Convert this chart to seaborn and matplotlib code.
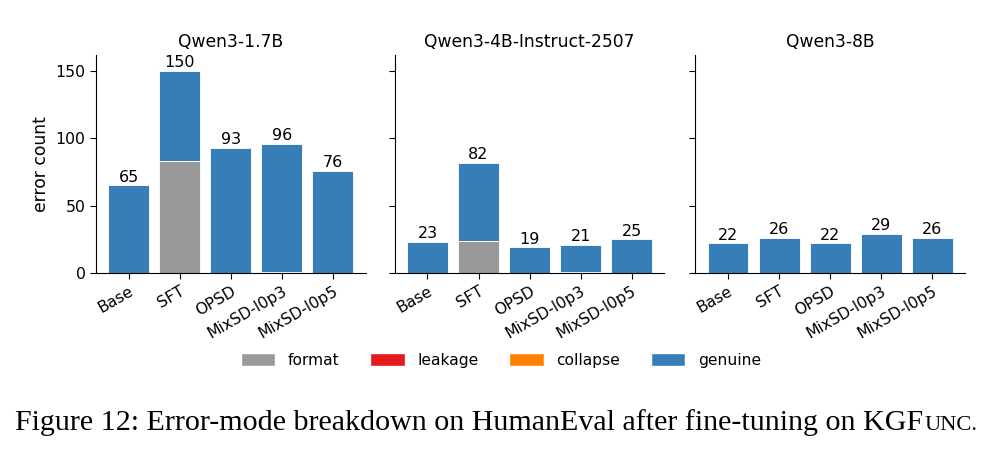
import numpy as np
import pandas as pd
import matplotlib
matplotlib.use("Agg")
import matplotlib.pyplot as plt
import seaborn as sns
from matplotlib.patches import Patch

sns.set_theme(style="white")
plt.rcParams['font.family'] = ['DejaVu Sans']
plt.rcParams['text.color'] = 'black'
plt.rcParams['axes.labelcolor'] = 'black'
plt.rcParams['xtick.color'] = 'black'
plt.rcParams['ytick.color'] = 'black'

# dados
modelos = ['Qwen3-1.7B', 'Qwen3-4B-Instruct-2507', 'Qwen3-8B']
metodos = ['Base', 'SFT', 'OPSD', 'MixSD-l0p3', 'MixSD-l0p5']
fmt_err = {
    'Qwen3-1.7B': [0, 83, 0, 1, 0],
    'Qwen3-4B-Instruct-2507': [0, 24, 0, 1, 0],
    'Qwen3-8B': [0, 0, 0, 0, 0],
}
leak_err = {
    'Qwen3-1.7B': [0, 0, 0, 0, 0],
    'Qwen3-4B-Instruct-2507': [0, 0, 0, 0, 0],
    'Qwen3-8B': [0, 0, 0, 0, 0],
}
collapse_err = {
    'Qwen3-1.7B': [0, 0, 0, 0, 0],
    'Qwen3-4B-Instruct-2507': [0, 0, 0, 0, 0],
    'Qwen3-8B': [0, 0, 0, 0, 0],
}
genuine_err = {
    'Qwen3-1.7B': [65, 67, 93, 95, 76],
    'Qwen3-4B-Instruct-2507': [23, 58, 19, 20, 25],
    'Qwen3-8B': [22, 26, 22, 29, 26],
}

modos = ['format', 'leakage', 'collapse', 'genuine']
cores = {'format': '#999999', 'leakage': '#e41a1c',
         'collapse': '#ff7f00', 'genuine': '#377eb8'}

fig = plt.figure(figsize=(10.02, 4.51), dpi=100)
lefts = [0.0958, 0.394, 0.694]
eixos = []
for i, m in enumerate(modelos):
    ax = fig.add_axes([lefts[i], 0.395, 0.269, 0.483],
                      sharey=eixos[0] if eixos else None)
    eixos.append(ax)
    df = pd.DataFrame({
        'metodo': metodos,
        'format': fmt_err[m],
        'leakage': leak_err[m],
        'collapse': collapse_err[m],
        'genuine': genuine_err[m],
    })
    # acumulado para empilhar (desenha do topo para a base)
    df['c_format'] = df['format']
    df['c_leakage'] = df['c_format'] + df['leakage']
    df['c_collapse'] = df['c_leakage'] + df['collapse']
    df['c_genuine'] = df['c_collapse'] + df['genuine']
    for modo in reversed(modos):
        sns.barplot(data=df, x='metodo', y='c_' + modo, order=metodos,
                    color=cores[modo], saturation=1, width=0.8,
                    edgecolor='white', linewidth=0.6, ax=ax)
    for j, tot in enumerate(df['c_genuine']):
        ax.text(j, tot + 0.5, f'{tot}', ha='center', va='bottom', fontsize=11.5)
    ax.set_xlim(-0.64, 4.64)
    ax.set_ylim(0, 162)
    ax.set_title(m, fontsize=12.3)
    ax.set_xlabel('')
    ax.set_ylabel('error count' if i == 0 else '', fontsize=12.3)
    ax.set_yticks([0, 50, 100, 150])
    ax.tick_params(axis='both', which='both', length=4, width=0.8,
                   bottom=True, left=True, labelsize=11.3)
    if i > 0:
        ax.tick_params(labelleft=False)
    plt.setp(ax.get_xticklabels(), rotation=30, ha='right',
             rotation_mode='anchor')
    sns.despine(ax=ax)
    for s in ['left', 'bottom']:
        ax.spines[s].set_color('black')
        ax.spines[s].set_linewidth(0.8)

handles = [Patch(facecolor=cores[k], label=k) for k in modos]
fig.legend(handles=handles, loc='center', bbox_to_anchor=(0.5, 0.2),
           ncol=4, frameon=False, fontsize=11.2, columnspacing=2.0,
           handleheight=0.9, handlelength=2.2)

# legenda da figura (KGFunc em versalete)
y_cap = 0.047
cap = fig.text(0.015, y_cap, 'Figure 12: Error-mode breakdown on HumanEval after fine-tuning on KGF',
               family='Liberation Serif', fontsize=21.6, va='baseline', ha='left')
fig.canvas.draw()
bb = cap.get_window_extent()
x1 = fig.transFigure.inverted().transform((bb.x1, bb.y0))[0]
fig.text(x1 + 0.001, y_cap, 'UNC.', family='Liberation Serif', fontsize=16.2,
         va='baseline', ha='left')

fig.savefig('out.png', dpi=100)
